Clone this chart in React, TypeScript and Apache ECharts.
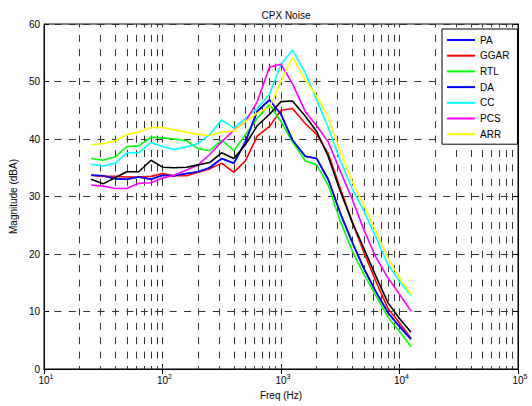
import React, { useEffect, useRef } from "react";
import * as echarts from "echarts";

const freqs = [25, 31.5, 40, 50, 63, 80, 100, 125, 160, 200, 250, 315, 400, 500, 630, 800, 1000, 1250, 1600, 2000, 2500, 3150, 4000, 5000, 6300, 8000, 10000, 12500];

const PA = [33.7, 33.6, 33.1, 33.0, 33.4, 33.0, 33.7, 33.6, 34.0, 34.3, 35.0, 36.6, 35.8, 39.5, 44.8, 46.8, 44.3, 39.8, 37.0, 36.6, 33.0, 27.2, 22.0, 17.5, 13.5, 9.8, 7.4, 5.2];
const GGAR = [33.7, 33.5, 33.5, 33.4, 33.4, 33.5, 34.0, 33.6, 33.6, 34.2, 34.8, 35.8, 34.2, 36.2, 40.5, 42.2, 45.0, 45.3, 42.7, 40.8, 37.5, 31.5, 25.5, 20.3, 15.3, 10.5, 8.0, 5.3];
const RTL = [36.6, 36.3, 36.9, 38.7, 38.8, 40.3, 40.2, 40.0, 39.7, 38.3, 38.0, 39.8, 38.0, 40.7, 43.6, 46.0, 43.0, 39.5, 36.2, 35.5, 32.0, 25.8, 20.5, 16.5, 12.8, 9.0, 6.5, 3.9];
const DA = [33.7, 33.6, 33.1, 33.0, 33.4, 33.0, 33.7, 33.6, 34.0, 34.3, 35.0, 36.6, 35.8, 39.5, 44.8, 46.8, 44.3, 39.8, 37.0, 36.6, 33.0, 27.2, 22.0, 17.5, 13.5, 9.8, 7.4, 5.2];
const CC = [35.6, 35.3, 35.8, 37.6, 37.6, 39.4, 38.7, 38.2, 38.6, 39.2, 40.8, 43.3, 41.9, 43.6, 45.3, 47.8, 53.0, 55.5, 51.5, 46.8, 42.0, 36.3, 31.3, 27.5, 23.0, 18.2, 15.2, 12.8];
const PCS = [32.0, 31.8, 31.4, 31.4, 32.3, 32.4, 33.2, 33.7, 34.6, 35.5, 37.3, 39.5, 41.5, 43.0, 46.5, 52.5, 53.0, 49.6, 44.8, 42.3, 39.5, 34.5, 29.5, 24.2, 19.5, 15.8, 13.0, 10.1];
const ARR = [39.0, 39.2, 39.7, 40.8, 41.2, 42.0, 42.0, 41.6, 41.2, 40.8, 40.6, 41.2, 41.4, 43.0, 44.5, 45.5, 50.0, 54.2, 50.3, 47.5, 43.8, 38.0, 32.5, 28.5, 24.0, 19.3, 15.8, 13.0];
const MEAN = [33.0, 32.2, 33.3, 34.3, 34.3, 36.3, 35.1, 35.0, 35.1, 35.5, 35.9, 37.6, 36.6, 39.0, 42.3, 44.3, 46.5, 46.6, 44.0, 41.3, 37.0, 31.0, 25.5, 21.0, 16.2, 11.5, 8.8, 6.4];

const legendNames = ["PA", "GGAR", "RTL", "DA", "CC", "PCS", "ARR"];
const seriesValues = [PA, GGAR, RTL, DA, CC, PCS, ARR, MEAN];
const seriesNames = [...legendNames, "Mean"];
const seriesColors = ["#0000ff", "#ff0000", "#00ff00", "#0000ff", "#00ffff", "#ff00ff", "#ffff00", "#000000"];

const xGridLines = [20, 30, 40, 50, 60, 70, 80, 90, 100, 200, 300, 400, 500, 600, 700, 800, 900, 1000, 2000, 3000, 4000, 5000, 6000, 7000, 8000, 9000, 10000, 20000, 30000, 40000, 50000, 60000, 70000, 80000, 90000];

export default function App() {
  const ref = useRef<HTMLDivElement>(null);
  useEffect(() => {
    const chart = echarts.init(ref.current as HTMLDivElement, null, { renderer: "svg" });
    const font = "'Liberation Sans', Arial, Helvetica, sans-serif";
    const gridDash = { color: "#333333", width: 1, type: [7, 7.4] as number[], dashOffset: 3.5 };

    const lineSeries = seriesNames.map((name, i) => ({
      name,
      type: "line",
      data: freqs.map((f, j) => [f, seriesValues[i][j]]),
      symbol: "none",
      showSymbol: false,
      lineStyle: { color: seriesColors[i], width: 1.6 },
      itemStyle: { color: seriesColors[i] },
      z: 3,
      silent: true,
    }));

    const gridSeries = {
      name: "grid",
      type: "line",
      data: [] as number[][],
      z: 1,
      silent: true,
      markLine: {
        silent: true,
        z: 1,
        symbol: ["none", "none"],
        label: { show: false },
        lineStyle: gridDash,
        emphasis: { disabled: true },
        data: xGridLines.map((v) => ({ xAxis: v })),
      },
    };

    chart.setOption({
      animation: false,
      backgroundColor: "#fff",
      textStyle: { fontFamily: font },
      title: {
        text: "CPX Noise",
        left: 281,
        textAlign: "center",
        top: 5,
        textStyle: { fontSize: 10, fontWeight: "normal", color: "#000", fontFamily: font },
      },
      legend: {
        data: legendNames,
        orient: "vertical",
        left: 442,
        top: 29,
        z: 20,
        backgroundColor: "#fff",
        borderColor: "#000",
        borderWidth: 1,
        borderRadius: 0,
        padding: [5, 8, 4, 5],
        itemWidth: 28,
        itemHeight: 2,
        itemGap: 3.7,
        icon: "rect",
        selectedMode: false,
        textStyle: { fontSize: 10, lineHeight: 12, color: "#000", fontFamily: font },
      },
      grid: {
        left: 44,
        right: 14,
        top: 24,
        bottom: 37,
        show: true,
        borderColor: "#000",
        borderWidth: 1,
        backgroundColor: "#fff",
      },
      xAxis: [
        {
          type: "log",
          logBase: 10,
          min: 10,
          max: 100000,
          position: "bottom",
          name: "Freq (Hz)",
          nameLocation: "middle",
          nameGap: 21,
          nameTextStyle: { fontSize: 10, color: "#000", fontFamily: font },
          axisLine: { show: true, lineStyle: { color: "#000", width: 1 } },
          axisTick: { show: true, inside: true, length: 5, lineStyle: { color: "#000" } },
          splitLine: { show: false },
          axisLabel: {
            margin: 4,
            color: "#000",
            formatter: (v: number) => `{b|10}{s|${Math.round(Math.log10(v))}}`,
            rich: {
              b: { fontSize: 10, color: "#000", fontFamily: font, padding: [0, 0, 0, 4] },
              s: { fontSize: 7, color: "#000", fontFamily: font, padding: [0, 0, 7, 0] },
            },
          },
        },
        {
          type: "log",
          logBase: 10,
          min: 10,
          max: 100000,
          position: "top",
          axisLine: { show: true, lineStyle: { color: "#000", width: 1 } },
          axisTick: { show: true, inside: true, length: 5, lineStyle: { color: "#000" } },
          axisLabel: { show: false },
          splitLine: { show: false },
        },
      ],
      yAxis: [
        {
          type: "value",
          min: 0,
          max: 60,
          interval: 10,
          position: "left",
          name: "Magnitude (dBA)",
          nameLocation: "middle",
          nameGap: 23,
          nameTextStyle: { fontSize: 10, color: "#000", fontFamily: font },
          axisLine: { show: true, lineStyle: { color: "#000", width: 1 } },
          axisTick: { show: true, inside: true, length: 5, lineStyle: { color: "#000" } },
          axisLabel: { fontSize: 10, color: "#000", margin: 4, fontFamily: font },
          splitLine: { show: true, lineStyle: gridDash },
        },
        {
          type: "value",
          min: 0,
          max: 60,
          interval: 10,
          position: "right",
          axisLine: { show: true, lineStyle: { color: "#000", width: 1 } },
          axisTick: { show: true, inside: true, length: 5, lineStyle: { color: "#000" } },
          axisLabel: { show: false },
          splitLine: { show: false },
        },
      ],
      series: [gridSeries, ...lineSeries],
    });
    return () => chart.dispose();
  }, []);
  return (
    <div
      ref={ref}
      style={{ position: "absolute", left: 0, top: 0, width: 532, height: 406, background: "#fff" }}
    />
  );
}
